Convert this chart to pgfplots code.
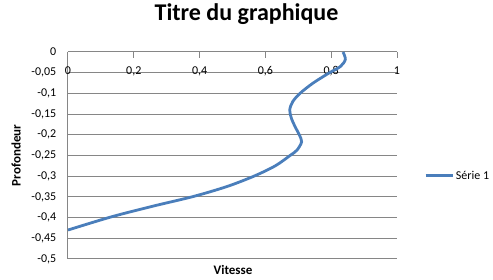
\documentclass[border=0pt]{standalone}
\usepackage{pgfplots}
\pgfplotsset{compat=1.18}
\usepackage{fontspec}
\setmainfont{Carlito}
\definecolor{serie}{RGB}{74,126,187}
\definecolor{gridc}{RGB}{134,134,134}
\begin{document}
\begin{tikzpicture}
\useasboundingbox (0,0) rectangle (493pt,280pt);
\begin{axis}[
  at={(68pt,21pt)}, anchor=south west,
  scale only axis, width=329pt, height=207pt,
  xmin=0, xmax=1, ymin=-0.5, ymax=0,
  axis x line*=top, axis y line*=left,
  axis line style={draw=gridc, line width=1pt},
  xtick={0,0.2,0.4,0.6,0.8,1},
  xticklabels={0,{0,2},{0,4},{0,6},{0,8},1},
  ytick={0,-0.05,-0.1,-0.15,-0.2,-0.25,-0.3,-0.35,-0.4,-0.45,-0.5},
  yticklabels={0,{-0,05},{-0,1},{-0,15},{-0,2},{-0,25},{-0,3},{-0,35},{-0,4},{-0,45},{-0,5}},
  ymajorgrids, grid style={draw=gridc, line width=1pt},
  xtick align=inside, major tick length=6pt,
  xtick style={draw=gridc, line width=1pt},
  ytick style={draw=none},
  ticklabel style={font=\fontsize{12}{14}\selectfont},
  xticklabel style={anchor=base, inner sep=0pt, yshift=-23pt},
  yticklabel style={anchor=east, inner sep=0pt, xshift=-11.5pt},
  title={Titre du graphique},
  title style={at={(axis description cs:0.5426,1.1256)}, anchor=base, inner sep=0pt, font=\fontsize{24}{28}\selectfont\bfseries},
  xlabel={Vitesse},
  xlabel style={at={(axis description cs:0.5015,-0.077)}, anchor=base, inner sep=0pt, font=\fontsize{13}{15}\selectfont\bfseries},
  ylabel={Profondeur},
  ylabel style={at={(axis description cs:-0.144,0.5)}, anchor=base, rotate=0, inner sep=0pt, font=\fontsize{13}{15}\selectfont\bfseries},
  legend style={at={(axis description cs:1.082,0.4024)}, anchor=west, draw=none, fill=none, inner sep=0pt, font=\fontsize{12}{14}\selectfont, /tikz/every even column/.append style={column sep=2pt}},
  legend image code/.code={\draw[#1] (0pt,0pt) -- (27pt,0pt);},
]
\addplot[color=serie, line width=2.8pt, smooth] coordinates {
(0.836,0) (0.843,-0.018) (0.828,-0.035) (0.795,-0.05) (0.745,-0.075)
(0.705,-0.1) (0.683,-0.12) (0.674,-0.14) (0.679,-0.16) (0.69,-0.18)
(0.703,-0.2) (0.71,-0.217) (0.696,-0.237) (0.675,-0.25) (0.63,-0.275)
(0.565,-0.3) (0.483,-0.325) (0.381,-0.349) (0.255,-0.373)
(0.13,-0.3986) (0,-0.43)
};
\addlegendentry{Série 1}
\end{axis}
\end{tikzpicture}
\end{document}
